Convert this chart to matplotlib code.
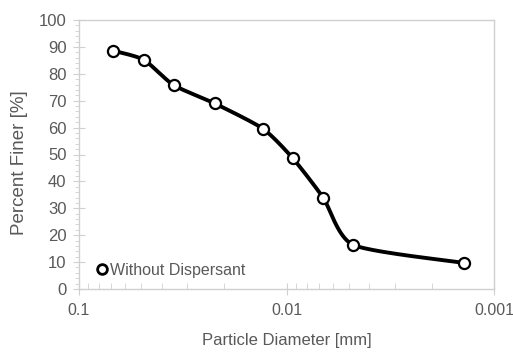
import numpy as np
import matplotlib
matplotlib.use("Agg")
import matplotlib.pyplot as plt
from matplotlib.lines import Line2D
from matplotlib.ticker import LogLocator, MultipleLocator, FuncFormatter

plt.rcParams['font.family'] = ['Liberation Sans', 'DejaVu Sans']

# data
diameter = [0.0684, 0.0487, 0.0350, 0.0222, 0.0130, 0.00935, 0.00666, 0.00477, 0.00139]   # mm
finer = [88.6, 85.2, 75.8, 69.0, 59.6, 48.7, 34.0, 16.4, 9.7]   # %
series_name = "Without Dispersant"

txt = "#595959"
grid = "#d0d0d0"


# Excel-ish smoothed line (cubic bezier through the points, in log-x space)
def smooth(xs, ys, k=9, n=40):
    p = np.column_stack([np.log10(xs), ys])
    out = [p[0]]
    for i in range(len(p) - 1):
        p0 = p[i - 1] if i > 0 else p[i]
        p1, p2 = p[i], p[i + 1]
        p3 = p[i + 2] if i + 2 < len(p) else p[i + 1]
        c1 = p1 + (p2 - p0) / k
        c2 = p2 - (p3 - p1) / k
        t = np.linspace(0, 1, n)[1:, None]
        seg = ((1 - t) ** 3) * p1 + 3 * ((1 - t) ** 2) * t * c1 + 3 * (1 - t) * t ** 2 * c2 + t ** 3 * p2
        out.extend(seg)
    out = np.array(out)
    return 10 ** out[:, 0], out[:, 1]


fig = plt.figure(figsize=(5.13, 3.53), dpi=100)
ax = fig.add_axes([79 / 513, 1 - 289 / 353, (494 - 79) / 513, (289 - 20) / 353])

sx, sy = smooth(diameter, finer)
ax.plot(sx, sy, color="black", lw=2.8, solid_capstyle="round", solid_joinstyle="round", zorder=2)
ax.plot(diameter, finer, ls="none", marker="o", ms=8, mfc="white", mec="black", mew=1.6, zorder=3)

ax.set_xscale("log")
ax.set_xlim(0.1, 0.001)
ax.set_ylim(0, 100)

ax.xaxis.set_major_locator(LogLocator(base=10, numticks=5))
ax.xaxis.set_minor_locator(LogLocator(base=10, subs=np.arange(2, 10), numticks=20))
ax.xaxis.set_major_formatter(FuncFormatter(lambda v, p: f"{v:g}"))
ax.xaxis.set_minor_formatter(FuncFormatter(lambda v, p: ""))
ax.yaxis.set_major_locator(MultipleLocator(10))
ax.yaxis.set_minor_locator(MultipleLocator(2))

for s in ax.spines.values():
    s.set_color(grid)
    s.set_linewidth(1.0)

ax.tick_params(axis="x", which="major", direction="inout", length=8, color=grid, labelcolor=txt, labelsize=11.5, pad=6)
ax.tick_params(axis="x", which="minor", direction="in", length=4, color=grid)
ax.tick_params(axis="y", which="major", direction="inout", length=8, color=grid, labelcolor=txt, labelsize=12, pad=5)
ax.tick_params(axis="y", which="minor", direction="out", length=3, color=grid)

ax.set_xlabel("Particle Diameter [mm]", color=txt, fontsize=12, labelpad=11)
ax.set_ylabel("Percent Finer [%]", color=txt, fontsize=13.5)
ax.yaxis.set_label_coords(-0.122, 0.468)

h = Line2D([], [], ls="none", marker="o", ms=7, mfc="white", mec="black", mew=2)
ax.legend([h], [series_name], loc="lower left", bbox_to_anchor=(0.012, 0.0), frameon=False,
          handlelength=0.8, handletextpad=0.15, labelcolor=txt, fontsize=11.5, borderaxespad=0.3)

fig.savefig("out.png", dpi=100)
